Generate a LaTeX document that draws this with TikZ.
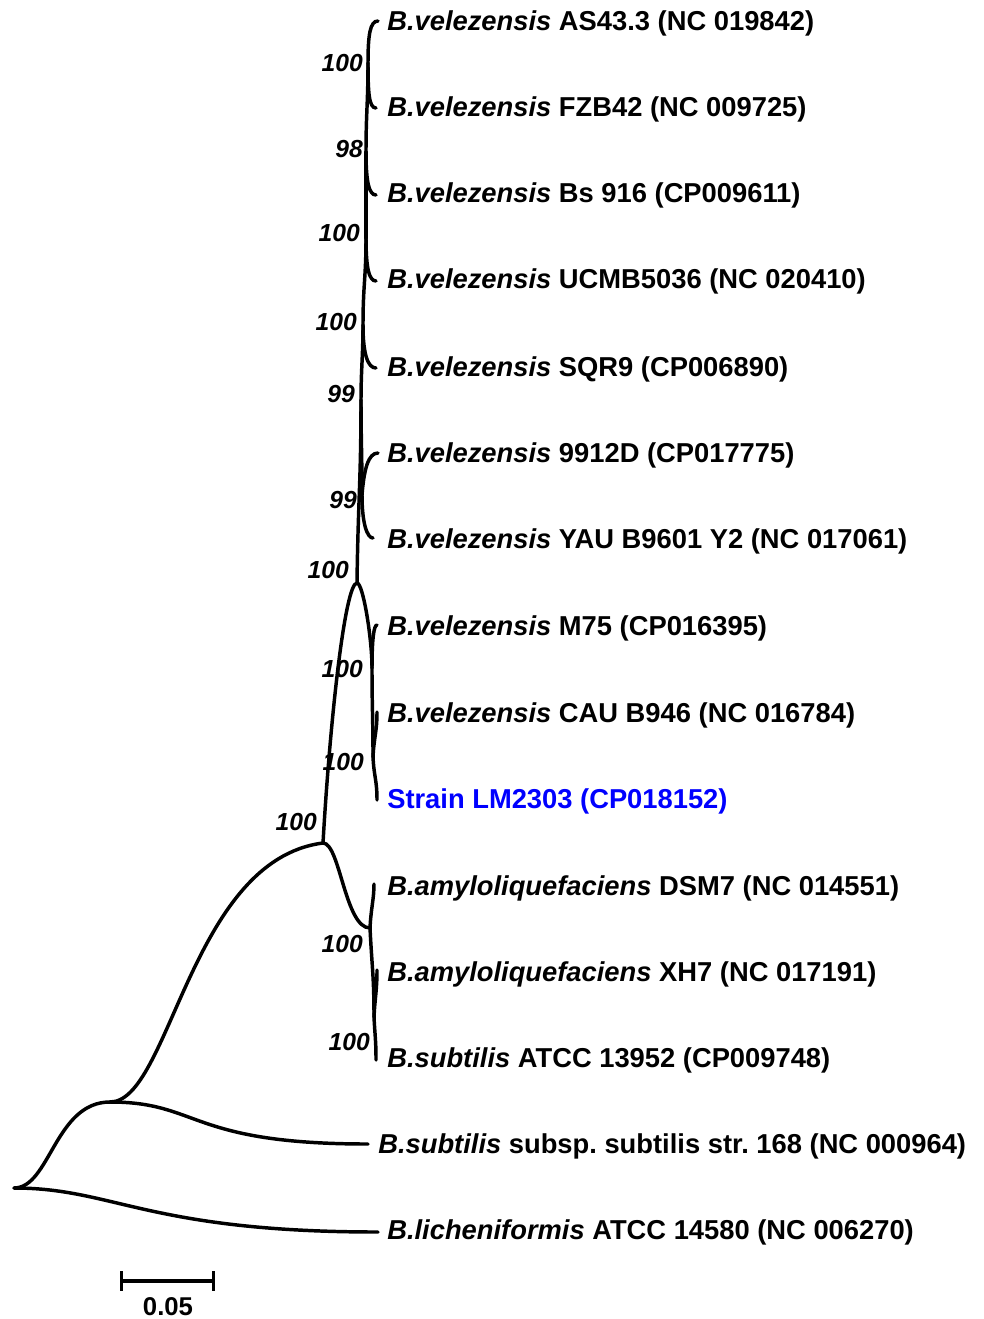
\documentclass[tikz,border=0pt]{standalone}
\usepackage{fontspec}
\setmainfont{Liberation Sans}
\usepackage{xcolor}
\usepackage{tikz}
\usetikzlibrary{arrows.meta}
\definecolor{lmBlue}{HTML}{0000FF}
\frenchspacing

\begin{document}
\begin{tikzpicture}[x=0.75pt, y=-0.75pt,
  br/.style={line width=2.6pt, line cap=round},
  leaf/.style={anchor=base west, inner sep=0pt, font=\fontsize{20.5}{24}\selectfont\bfseries},
  boot/.style={anchor=base east, inner sep=0pt, font=\fontsize{18.5}{22}\selectfont\bfseries\itshape}]

\useasboundingbox (0,0) rectangle (983,1319);

% inner nodes of the tree
\coordinate (root) at (14,1188);
\coordinate (n1) at (110,1102);
\coordinate (n2) at (323,843);
\coordinate (nA2) at (370,928);
\coordinate (nF) at (374,1017);
\coordinate (nV) at (357,583);
\coordinate (nC) at (372,668);
\coordinate (nE) at (373,757);
\coordinate (nG) at (361,400);
\coordinate (nD) at (362,495);
\coordinate (nS) at (363,325);
\coordinate (nU) at (366,238);
\coordinate (nB) at (366,152);
\coordinate (nA) at (368,63);

% tips
\coordinate (tAS) at (378,21);
\coordinate (tFZB) at (376,108);
\coordinate (tBs) at (376,195);
\coordinate (tUCMB) at (376,281);
\coordinate (tSQR) at (376,368);
\coordinate (tD9912) at (378,453);
\coordinate (tYAU) at (373,538);
\coordinate (tM75) at (377,625);
\coordinate (tCAU) at (377,712);
\coordinate (tStrain) at (377,800);
\coordinate (tDSM) at (374,884);
\coordinate (tXH7) at (377,970);
\coordinate (tATCC) at (376,1060);
\coordinate (tSub) at (368,1144);
\coordinate (tLich) at (378,1232);

% outgroups
\draw[br] (root) .. controls +(36,0) and +(-55,0) .. (n1);
\draw[br] (root) .. controls +(100,0) and +(-230,0) .. (tLich);
\draw[br] (n1) .. controls +(90,0) and +(-180,0) .. (tSub);
\draw[br] (n1) .. controls +(60,0) and +(-133,17) .. (n2);
\draw[br] (n2) .. controls +(7,-123) and +(-12,0) .. (nV);
\draw[br] (n2) .. controls +(17,0) and +(-25,0) .. (nA2);

% amyloliquefaciens / subtilis
\draw[br] (nA2) .. controls +(1,-20) and +(0,15) .. (tDSM);
\draw[br] (nA2) .. controls +(2,40) and +(0,-40) .. (nF);
\draw[br] (nF) .. controls +(1,-20) and +(0,20) .. (tXH7);
\draw[br] (nF) .. controls +(1,20) and +(0,-20) .. (tATCC);

% M75 clade
\draw[br] (nV) .. controls +(6,0) and +(0,-30) .. (nC);
\draw[br] (nC) .. controls +(0,-30) and +(-3,0) .. (tM75);
\draw[br] (nC) .. controls +(0,40) and +(0,-40) .. (nE);
\draw[br] (nE) .. controls +(1,-20) and +(0,20) .. (tCAU);
\draw[br] (nE) .. controls +(1,20) and +(0,-20) .. (tStrain);

% velezensis spine
\draw[br] (nV) .. controls +(1,-80) and +(0,80) .. (nG);
\draw[br] (nG) .. controls +(0,-30) and +(0,30) .. (nS);
\draw[br] (nG) .. controls +(0,40) and +(0,-40) .. (nD);
\draw[br] (nS) .. controls +(0,-40) and +(0,40) .. (nU);
\draw[br] (nU) .. controls +(0,-40) and +(0,40) .. (nB);
\draw[br] (nB) .. controls +(0,-40) and +(0,40) .. (nA);
\draw[br] (nA) .. controls +(0,-28) and +(-8,0) .. (tAS);
\draw[br] (nA) .. controls +(0,30) and +(-7,0) .. (tFZB);
\draw[br] (nB) .. controls +(0,30) and +(-7,0) .. (tBs);
\draw[br] (nU) .. controls +(0,30) and +(-7,0) .. (tUCMB);
\draw[br] (nS) .. controls +(0,30) and +(-8,0) .. (tSQR);
\draw[br] (nD) .. controls +(2,-25) and +(-10,0) .. (tD9912);
\draw[br] (nD) .. controls +(0,28) and +(-6,0) .. (tYAU);

% leaf labels
\node[leaf] (lAS) at (387,31) {\itshape B.velezensis\upshape{} AS43.3 (NC 019842)};
\node[leaf] (lFZB) at (387,117) {\itshape B.velezensis\upshape{} FZB42 (NC 009725)};
\node[leaf] (lBs) at (387,203) {\itshape B.velezensis\upshape{} Bs 916 (CP009611)};
\node[leaf] (lUCMB) at (387,289) {\itshape B.velezensis\upshape{} UCMB5036 (NC 020410)};
\node[leaf] (lSQR) at (387,376) {\itshape B.velezensis\upshape{} SQR9 (CP006890)};
\node[leaf] (lD9912) at (387,462) {\itshape B.velezensis\upshape{} 9912D (CP017775)};
\node[leaf] (lYAU) at (387,548) {\itshape B.velezensis\upshape{} YAU B9601 Y2 (NC 017061)};
\node[leaf] (lM75) at (387,635) {\itshape B.velezensis\upshape{} M75 (CP016395)};
\node[leaf] (lCAU) at (387,722) {\itshape B.velezensis\upshape{} CAU B946 (NC 016784)};
\node[leaf, lmBlue] (lStrain) at (387,808) {Strain LM2303 (CP018152)};
\node[leaf] (lDSM) at (387,895) {\itshape B.amyloliquefaciens\upshape{} DSM7 (NC 014551)};
\node[leaf] (lXH7) at (387,981) {\itshape B.amyloliquefaciens\upshape{} XH7 (NC 017191)};
\node[leaf] (lATCC) at (387,1067) {\itshape B.subtilis\upshape{} ATCC 13952 (CP009748)};
\node[leaf] (lSub) at (378,1153) {\itshape B.subtilis\upshape{} subsp. subtilis str. 168 (NC 000964)};
\node[leaf] (lLich) at (387,1239) {\itshape B.licheniformis\upshape{} ATCC 14580 (NC 006270)};

% bootstrap values
\node[boot] (bA) at (363,72) {100};
\node[boot] (bB) at (363,158) {98};
\node[boot] (bU) at (360,242) {100};
\node[boot] (bS) at (357,330) {100};
\node[boot] (bG) at (355,402) {99};
\node[boot] (bD) at (357,508) {99};
\node[boot] (bV) at (349,578) {100};
\node[boot] (bC) at (363,677) {100};
\node[boot] (bE) at (364,770) {100};
\node[boot] (b2) at (317,830) {100};
\node[boot] (bA2) at (363,952) {100};
\node[boot] (bF) at (370,1050) {100};

% scale bar
\coordinate (sbL) at (120,1281);
\coordinate (sbR) at (215,1281);
\draw[br, line cap=butt, {Bar[width=14.5pt]}-{Bar[width=14.5pt]}] (sbL) -- (sbR);
\node[anchor=base, inner sep=0pt, font=\fontsize{19.3}{22}\selectfont\bfseries] (sbLab) at (168,1315) {0.05};
\end{tikzpicture}
\end{document}
